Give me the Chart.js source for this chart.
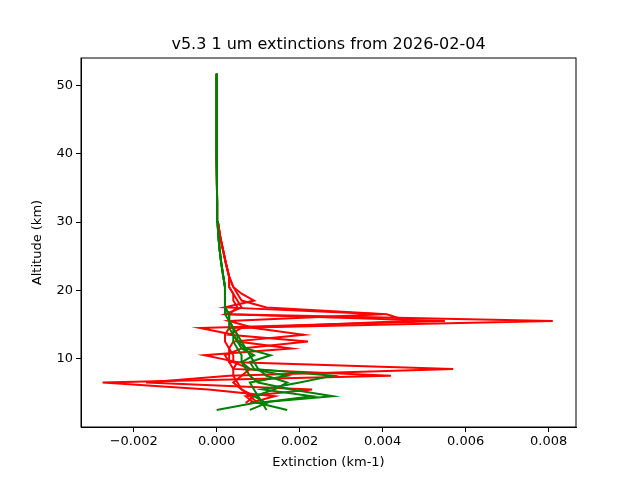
<!DOCTYPE html>
<html><head><meta charset="utf-8">
<script src="https://cdn.jsdelivr.net/npm/chart.js@4"></script>
<style>body{margin:0;background:#fff}</style>
</head><body>
<canvas id="c" width="640" height="480"></canvas>
<script>
const lowAlt = [2.5,3.5,4.5,5.5,6.5,7.5,8.5,9.5,10.5,11.5,12.5,13.5,14.5,15.5,16.5,17.5,18.5,19.5,20.5];
const upAlt = [22,24,26,28,30,33,40,46,51.7];
const redUpper = [0.00030,0.00022,0.00015,0.00008,0.00003,0.00001,0,0,0];
const greenUpper = [0.00016,0.00011,0.00007,0.00004,0.00002,0.00001,0,0,0];
const red1 = [null,0.0010,0.0008,0.0006,0.0005,0.0004,0.0004,0.0003,0.0003,0.0003,0.0002,0.0002,0.0003,0.0081,0.0003,0.0005,0.0004,0.0004,0.0003];
const red2 = [null,0.0008,0.0014,-0.0002,-0.00275,0.0042,0.0004,0.0005,-0.0003,0.0018,0.0005,0.0004,-0.0004,0.0055,0.0002,0.0006,0.0005,0.0004,0.0003];
const red3 = [null,0.0009,0.0007,0.0023,-0.0017,0.0003,0.0057,0.0003,0.0002,0.0006,0.0022,0.0003,0.0006,0.0046,0.0041,0.0012,0.0006,0.0005,0.0004];
const red4 = [null,0.0007,0.0009,0.0006,0.0004,0.0006,0.0008,0.0004,0.0004,0.0003,0.0004,0.0021,0.0009,0.0003,0.0040,0.0002,0.0009,0.0006,0.0004];
const green1 = [0.0000,0.0009,0.0028,0.0018,0.0010,0.0008,0.0007,0.0006,0.0006,0.0005,0.0004,0.0004,0.0003,0.0003,0.0002,0.0002,0.0002,0.0002,0.0002];
const green2 = [0.0017,0.0010,0.0023,0.0011,0.0020,0.0028,0.0009,0.0008,0.0013,0.0007,0.0006,0.0005,0.0004,0.0003,0.0003,0.0002,0.0002,0.0002,0.0002];
const green3 = [0.0008,0.0012,0.0009,0.0014,0.0017,0.0012,0.0010,0.0009,0.0008,0.0007,0.0005,0.0005,0.0004,0.0003,0.0003,0.0002,0.0002,0.0002,0.0002];
const green4 = [0.0012,0.0011,0.0010,0.0009,0.0008,0.0017,0.0008,0.0006,0.0009,0.0006,0.0005,0.0004,0.0004,0.0003,0.0003,0.0002,0.0002,0.0002,0.0002];
const xTicks = [-0.002,0,0.002,0.004,0.006,0.008];
const yTicks = [10,20,30,40,50];
const titleText = 'v5.3 1 um extinctions from 2026-02-04';

function pts(low, up){
  const p=[];
  low.forEach((v,i)=>{ if(v!==null) p.push({x:v,y:lowAlt[i]}); });
  up.forEach((v,i)=>p.push({x:v,y:upAlt[i]}));
  return p;
}
const greens=[green1,green2,green3,green4], reds=[red1,red2,red3,red4];
const datasets=[];
greens.forEach(g=>datasets.push({data:pts(g,greenUpper),borderColor:'#008000'}));
reds.forEach(r=>datasets.push({data:pts(r,redUpper),borderColor:'#ff0000'}));
datasets.forEach(d=>{d.showLine=true;d.pointRadius=0;d.borderWidth=2;d.tension=0;});

const frame={id:'frame',afterDatasetsDraw(c){const a=c.chartArea,x=c.ctx;x.save();x.strokeStyle='#000';x.lineWidth=1;x.strokeRect(a.left,a.top,a.right-a.left,a.bottom-a.top);
  x.fillStyle='#000';x.font='16px "DejaVu Sans"';x.textAlign='center';x.textBaseline='alphabetic';x.fillText(titleText,(a.left+a.right)/2,49);x.restore();}};
const font={family:'DejaVu Sans',size:13};
new Chart(document.getElementById('c'),{
  type:'scatter',
  data:{datasets},
  plugins:[frame],
  options:{
    responsive:false,animation:false,devicePixelRatio:1,
    layout:{padding:{left:30,right:64,top:58,bottom:0}},
    plugins:{legend:{display:false},tooltip:{enabled:false},title:{display:false}},
    scales:{
      x:{type:'linear',min:-0.00327,max:0.00866,
        afterBuildTicks:s=>{s.ticks=xTicks.map(v=>({value:v}));},
        ticks:{color:'#000',font,callback:v=>v.toFixed(3).replace('-','\u2212'),maxRotation:0,padding:2},
        grid:{drawOnChartArea:false,color:'#000',tickLength:5},
        border:{color:'#000'},
        title:{display:true,text:'Extinction (km-1)',color:'#000',font,padding:{top:2,bottom:10}},
        afterFit:s=>{s.height=53;}},
      y:{type:'linear',min:0,max:54,
        afterBuildTicks:s=>{s.ticks=yTicks.map(v=>({value:v}));},
        ticks:{color:'#000',font,padding:3},
        grid:{drawOnChartArea:false,color:'#000',tickLength:5},
        border:{color:'#000'},
        title:{display:true,text:'Altitude (km)',color:'#000',font,padding:{top:0,bottom:4}},
        afterFit:s=>{s.width=51;}}
    }
  }
});
</script>
</body></html>
